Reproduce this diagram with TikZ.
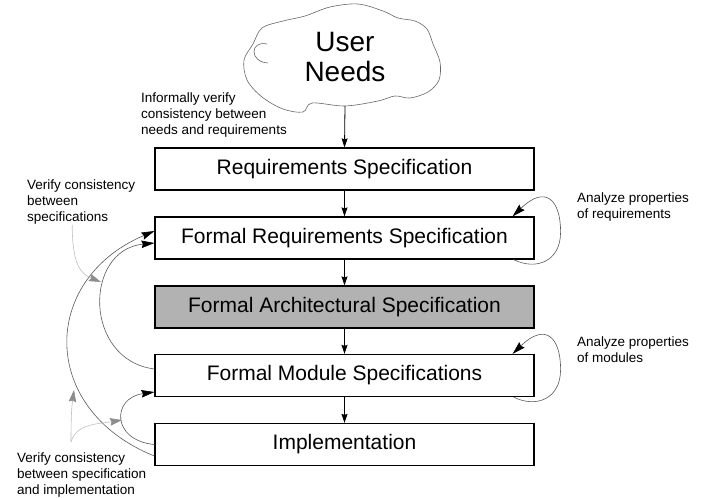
\documentclass[tikz,border=0pt]{standalone}
\usepackage{fontspec}
\setmainfont{Liberation Sans}
\usetikzlibrary{arrows.meta}

\tikzset{
  specbox/.style={draw, line width=1.2pt, minimum width=379pt, minimum height=42pt,
    inner sep=0pt, font=\fontsize{21}{25}\selectfont},
  note/.style={anchor=north west, align=left, inner sep=0pt, font=\fontsize{13.5}{16}\selectfont},
  flow/.style={->, black, line width=0.8pt},
  check/.style={-{Stealth[length=13pt,width=7.5pt,inset=1.5pt,color=black]}, black!65, line width=0.6pt},
  hint/.style={-{Stealth[length=12pt,width=7.5pt,inset=1.5pt,color=black!45]}, black!25, line width=0.6pt},
}

\begin{document}
\begin{tikzpicture}[x=1pt, y=-1pt, >={Stealth[length=9pt,width=6pt,inset=1pt]}]
  \useasboundingbox (0,0) rectangle (702,498);

  % Nube de necesidades
  \draw[black!60, line width=0.6pt] plot[smooth cycle, tension=0.55] coordinates {
    (283,21) (305,16) (330,7) (358,4) (383,11) (398,18) (415,21) (427,29)
    (433,44) (440,62) (439,80) (428,92) (410,98) (395,96) (378,101) (345,106)
    (312,103) (303,112) (283,109) (262,97) (247,80) (244,60) (253,44) (262,28)};
  \draw[black!60, line width=0.6pt] (267,44) .. controls (250,40) and (249,62) .. (268,63);
  \node[font=\fontsize{28}{30}\selectfont, align=center] (needs) at (345,57) {User\\Needs};
  \coordinate (needsfoot) at (345,106);

  % Especificaciones
  \node[specbox] (req) at (344.5,169) {Requirements Specification};
  \node[specbox] (freq) at (344.5,238) {Formal Requirements Specification};
  \node[specbox, fill=black!30] (farch) at (344.5,307) {Formal Architectural Specification};
  \node[specbox] (fmod) at (344.5,375.5) {Formal Module Specifications};
  \node[specbox] (impl) at (344.5,444.5) {Implementation};

  \draw[flow] (needsfoot) -- (req.north);
  \foreach \a/\b in {req/freq, freq/farch, farch/fmod, fmod/impl}
    \draw[flow] (\a.south) -- (\b.north);

  % Verificacion entre niveles
  \draw[check] ([yshift=-11.5pt]impl.west) .. controls +(-115,-46) and +(-115,49) .. ([yshift=7pt]freq.west);
  \draw[check] ([yshift=6.5pt]fmod.west) .. controls +(-71,-9) and +(-71,7) .. ([yshift=-5pt]freq.west);
  \draw[check] (impl.west) .. controls +(-43,-4) and +(-43,6) .. ([yshift=-16.5pt]fmod.west);

  % Analisis de propiedades
  \foreach \b in {freq, fmod}
    \draw[check] ([xshift=-21pt]\b.south east) .. controls +(22,11) and +(0,30)
      .. ([xshift=26pt,yshift=6pt]\b.east) .. controls +(0,-32) and +(33,-32)
      .. ([xshift=-22pt]\b.north east);

  % Notas
  \node[note] (inform) at (141,93) {Informally verify\\consistency between\\needs and requirements};
  \node[note] (vspec) at (27,180) {Verify consistency\\between\\specifications};
  \node[note] (vimpl) at (17,453) {Verify consistency\\between specification\\and implementation};
  \node[note] (anreq) at (577,193) {Analyze properties\\of requirements};
  \node[note] (anmod) at (577,337) {Analyze properties\\of modules};

  \coordinate (specmark) at (101,282);
  \coordinate (hintroot) at (71,442);
  \coordinate (outermark) at (74,390);
  \coordinate (smallmark) at (122,420);
  \draw[hint] ([xshift=-9pt]vspec.south) .. controls +(0,40) and +(-20,-8) .. (specmark);
  \draw[hint] (hintroot) .. controls +(0,-30) and +(-2,15) .. (outermark);
  \draw[hint] (hintroot) .. controls +(5,-18) and +(-25,4) .. (smallmark);
\end{tikzpicture}
\end{document}
